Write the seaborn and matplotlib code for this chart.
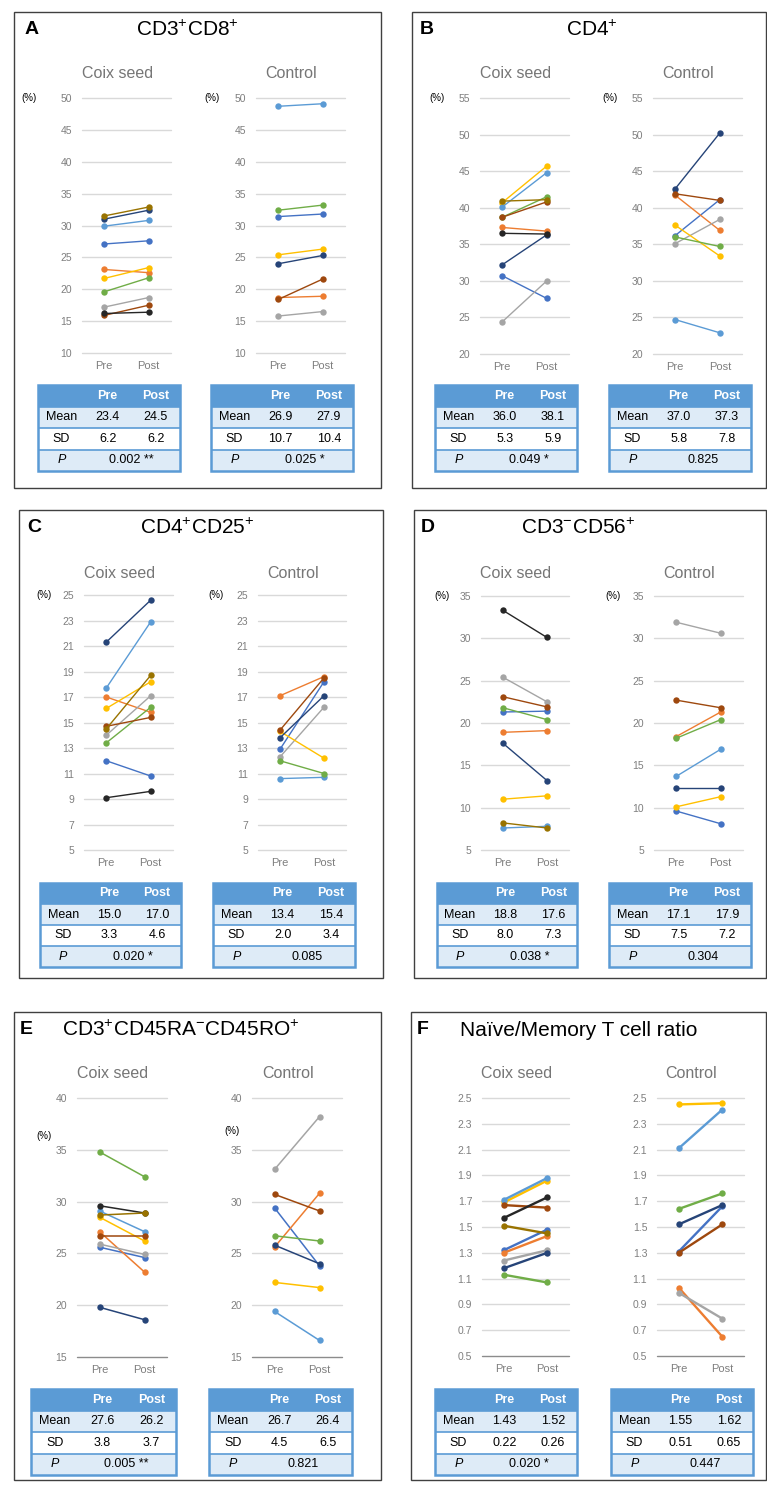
import matplotlib
matplotlib.use("Agg")
import pandas as pd
import matplotlib.pyplot as plt
from matplotlib.patches import Rectangle
import seaborn as sns

W, H = 767, 1486

# subjects, coloured in the Excel series order
subjects = ["S1", "S2", "S3", "S4", "S5", "S6", "S7", "S8", "S9", "S10"]
subject_colors = {
    "S1": "#4472C4", "S2": "#ED7D31", "S3": "#A5A5A5", "S4": "#FFC000",
    "S5": "#5B9BD5", "S6": "#70AD47", "S7": "#264478", "S8": "#9E480E",
    "S9": "#262626", "S10": "#997300",
}
groups = ["Coix seed", "Control"]

# A  CD3+CD8+
a_yticks = [10, 15, 20, 25, 30, 35, 40, 45, 50]
a_coix_pre = [27.1, 23.1, 17.2, 21.7, 29.9, 19.6, 31.0, 15.9, 16.2, 31.5]
a_coix_post = [27.6, 22.6, 18.7, 23.4, 30.8, 21.8, 32.4, 17.5, 16.4, 32.9]
a_ctrl_pre = [31.4, 18.7, 15.8, 25.4, 48.7, 32.4, 24.0, 18.4]
a_ctrl_post = [31.8, 18.9, 16.5, 26.3, 49.1, 33.2, 25.3, 21.6]
a_coix_table = [["23.4", "24.5"], ["6.2", "6.2"], "0.002 **"]
a_ctrl_table = [["26.9", "27.9"], ["10.7", "10.4"], "0.025 *"]

# B  CD4+
b_yticks = [20, 25, 30, 35, 40, 45, 50, 55]
b_coix_pre = [30.7, 37.3, 24.4, 40.7, 40.1, 38.7, 32.2, 38.7, 36.5, 40.9]
b_coix_post = [27.6, 36.8, 30.0, 45.7, 44.8, 41.5, 36.3, 40.8, 36.4, 41.1]
b_ctrl_pre = [36.2, 41.7, 35.1, 37.6, 24.7, 36.0, 42.6, 41.9]
b_ctrl_post = [41.1, 36.9, 38.4, 33.4, 22.9, 34.7, 50.2, 41.0]
b_coix_table = [["36.0", "38.1"], ["5.3", "5.9"], "0.049 *"]
b_ctrl_table = [["37.0", "37.3"], ["5.8", "7.8"], "0.825"]

# C  CD4+CD25+
c_yticks = [5, 7, 9, 11, 13, 15, 17, 19, 21, 23, 25]
c_coix_pre = [12.0, 17.0, 14.0, 16.1, 17.7, 13.4, 21.3, 14.7, 9.1, 14.5]
c_coix_post = [10.8, 15.8, 17.1, 18.2, 22.9, 16.2, 24.6, 15.4, 9.6, 18.7]
c_ctrl_pre = [12.9, 17.1, 12.3, 14.3, 10.6, 12.0, 13.8, 14.4]
c_ctrl_post = [18.2, 18.6, 16.2, 12.2, 10.7, 11.0, 17.1, 18.5]
c_coix_table = [["15.0", "17.0"], ["3.3", "4.6"], "0.020 *"]
c_ctrl_table = [["13.4", "15.4"], ["2.0", "3.4"], "0.085"]

# D  CD3-CD56+
d_yticks = [5, 10, 15, 20, 25, 30, 35]
d_coix_pre = [21.3, 18.9, 25.4, 11.0, 7.6, 21.8, 17.6, 23.1, 33.3, 8.2]
d_coix_post = [21.4, 19.1, 22.5, 11.4, 7.8, 20.4, 13.2, 21.9, 30.1, 7.6]
d_ctrl_pre = [9.6, 18.4, 31.9, 10.1, 13.7, 18.2, 12.3, 22.7]
d_ctrl_post = [8.1, 21.3, 30.6, 11.3, 16.9, 20.4, 12.3, 21.8]
d_coix_table = [["18.8", "17.6"], ["8.0", "7.3"], "0.038 *"]
d_ctrl_table = [["17.1", "17.9"], ["7.5", "7.2"], "0.304"]

# E  CD3+CD45RA-CD45RO+
e_yticks = [15, 20, 25, 30, 35, 40]
e_coix_pre = [25.6, 27.1, 25.9, 28.5, 29.1, 34.8, 19.8, 26.7, 29.6, 28.7]
e_coix_post = [24.6, 23.2, 24.9, 26.2, 27.1, 32.4, 18.6, 26.7, 28.9, 28.9]
e_ctrl_pre = [29.4, 25.6, 33.1, 22.2, 19.4, 26.7, 25.8, 30.7]
e_ctrl_post = [23.8, 30.8, 38.2, 21.7, 16.6, 26.2, 24.0, 29.1]
e_coix_table = [["27.6", "26.2"], ["3.8", "3.7"], "0.005 **"]
e_ctrl_table = [["26.7", "26.4"], ["4.5", "6.5"], "0.821"]

# F  naive / memory ratio
f_yticks = [0.5, 0.7, 0.9, 1.1, 1.3, 1.5, 1.7, 1.9, 2.1, 2.3, 2.5]
f_coix_pre = [1.32, 1.30, 1.24, 1.69, 1.71, 1.13, 1.18, 1.67, 1.57, 1.51]
f_coix_post = [1.48, 1.43, 1.32, 1.86, 1.88, 1.07, 1.30, 1.65, 1.73, 1.45]
f_ctrl_pre = [1.31, 1.03, 0.99, 2.45, 2.11, 1.64, 1.52, 1.30]
f_ctrl_post = [1.66, 0.65, 0.79, 2.46, 2.41, 1.76, 1.67, 1.52]
f_coix_table = [["1.43", "1.52"], ["0.22", "0.26"], "0.020 *"]
f_ctrl_table = [["1.55", "1.62"], ["0.51", "0.65"], "0.447"]

GRID = "#D9D9D9"
TICK = "#7F7F7F"
TBL_BLUE = "#5B9BD5"
TBL_LIGHT = "#DEEBF7"

sns.set_theme(style="white")
plt.rcParams["font.family"] = ["Liberation Sans", "DejaVu Sans"]
plt.rcParams["mathtext.fontset"] = "custom"
plt.rcParams["mathtext.rm"] = "Liberation Sans"
plt.rcParams["mathtext.it"] = "Liberation Sans:italic"

fig = plt.figure(figsize=(W / 100, H / 100), dpi=100)


def px_box(x0, y0, x1, y1):
    return [x0 / W, 1 - y1 / H, (x1 - x0) / W, (y1 - y0) / H]


def ftext(x, y, s, **kw):
    fig.text(x / W, 1 - y / H, s, va="center", **kw)


def draw_group(box, pre, post, yticks, lw, bottom_color, fmt):
    ax = fig.add_axes(px_box(*box))
    n = len(pre)
    df = pd.DataFrame({
        "subject": subjects[:n] * 2,
        "time": pd.Categorical(["Pre"] * n + ["Post"] * n, categories=["Pre", "Post"]),
        "value": pre + post,
    })
    for i, t in enumerate(yticks):
        ax.axhline(t, color=bottom_color if i == 0 else GRID, lw=1, zorder=0, clip_on=False)
    sns.lineplot(data=df, x="time", y="value", hue="subject", hue_order=subjects[:n],
                 palette=subject_colors, marker="o", markersize=4.6, markeredgewidth=0,
                 linewidth=lw, errorbar=None, legend=False, ax=ax, clip_on=False)
    ax.set_xlim(-0.5, 1.5)
    ax.set_ylim(yticks[0], yticks[-1])
    ax.set_yticks(yticks)
    ax.set_yticklabels([fmt.format(t) for t in yticks])
    ax.tick_params(axis="y", length=0, pad=7, labelsize=7.5, labelcolor=TICK)
    ax.tick_params(axis="x", length=0, pad=6, labelsize=8, labelcolor=TICK)
    ax.set_xlabel("")
    ax.set_ylabel("")
    ax.set_facecolor("none")
    sns.despine(ax=ax, left=True, bottom=True)
    return ax


def draw_table(box, table):
    tax = fig.add_axes(px_box(*box))
    tax.set_xlim(0, 1)
    tax.set_ylim(4, 0)
    tax.axis("off")
    for r, fc in enumerate([TBL_BLUE, TBL_LIGHT, "white", TBL_LIGHT]):
        tax.add_patch(Rectangle((0, r), 1, 1, facecolor=fc, edgecolor="none"))
    for r in (1, 2, 3):
        tax.plot([0, 1], [r, r], color=TBL_BLUE, lw=1.2)
    tax.add_patch(Rectangle((0, 0), 1, 4, fill=False, edgecolor=TBL_BLUE, lw=1.8, clip_on=False))
    hk = dict(ha="center", va="center", fontsize=9, color="white", fontweight="bold")
    tax.text(0.49, 0.5, "Pre", **hk)
    tax.text(0.83, 0.5, "Post", **hk)
    bk = dict(ha="center", va="center", fontsize=9, color="black")
    for r, (lab, vals) in enumerate(zip(["Mean", "SD"], table[:2]), start=1):
        tax.text(0.165, r + 0.5, lab, **bk)
        tax.text(0.49, r + 0.5, vals[0], **bk)
        tax.text(0.83, r + 0.5, vals[1], **bk)
    tax.text(0.165, 3.5, "P", style="italic", **bk)
    tax.text(0.66, 3.5, table[2], **bk)


panels = [
    dict(letter="A", title=r"CD3$^{+}$CD8$^{+}$", box=(14, 12, 381, 488), lxy=(32, 30),
         txy=(187, 30), ha="center", sub_y=73, ax_x=[(82, 171), (256, 345)], ay=(98, 353),
         pct=[(29, 98), (212, 98)], tb_x=[(38, 180), (211, 353)], ty=(385, 471),
         yticks=a_yticks, data=[(a_coix_pre, a_coix_post, a_coix_table), (a_ctrl_pre, a_ctrl_post, a_ctrl_table)],
         lw=1.0, bottom=GRID, fmt="{:.0f}"),
    dict(letter="B", title=r"CD4$^{+}$", box=(412, 12, 766, 488), lxy=(427, 30),
         txy=(592, 30), ha="center", sub_y=74, ax_x=[(480, 569), (653, 742)], ay=(98, 354),
         pct=[(437, 98), (610, 98)], tb_x=[(435, 577), (609, 751)], ty=(385, 471),
         yticks=b_yticks, data=[(b_coix_pre, b_coix_post, b_coix_table), (b_ctrl_pre, b_ctrl_post, b_ctrl_table)],
         lw=1.0, bottom=GRID, fmt="{:.0f}"),
    dict(letter="C", title=r"CD4$^{+}$CD25$^{+}$", box=(19, 510, 383, 978), lxy=(34, 528),
         txy=(197, 528), ha="center", sub_y=573, ax_x=[(84, 173), (258, 346)], ay=(595, 850),
         pct=[(44, 595), (216, 595)], tb_x=[(40, 181), (213, 355)], ty=(883, 967),
         yticks=c_yticks, data=[(c_coix_pre, c_coix_post, c_coix_table), (c_ctrl_pre, c_ctrl_post, c_ctrl_table)],
         lw=1.0, bottom=GRID, fmt="{:.0f}"),
    dict(letter="D", title=r"CD3$^{-}$CD56$^{+}$", box=(414, 510, 766, 978), lxy=(428, 528),
         txy=(578, 528), ha="center", sub_y=573, ax_x=[(481, 569), (654, 743)], ay=(596, 850),
         pct=[(442, 596), (613, 596)], tb_x=[(437, 577), (609, 751)], ty=(883, 967),
         yticks=d_yticks, data=[(d_coix_pre, d_coix_post, d_coix_table), (d_ctrl_pre, d_ctrl_post, d_ctrl_table)],
         lw=1.0, bottom=GRID, fmt="{:.0f}"),
    dict(letter="E", title=r"CD3$^{+}$CD45RA$^{-}$CD45RO$^{+}$", box=(14, 1012, 381, 1480), lxy=(26, 1030),
         txy=(62, 1030), ha="left", sub_y=1074, ax_x=[(77, 167), (252, 342)], ay=(1098, 1357),
         pct=[(44, 1136), (232, 1131)], tb_x=[(31, 176), (209, 352)], ty=(1389, 1475),
         yticks=e_yticks, data=[(e_coix_pre, e_coix_post, e_coix_table), (e_ctrl_pre, e_ctrl_post, e_ctrl_table)],
         lw=1.1, bottom="#8C8C8C", fmt="{:.0f}"),
    dict(letter="F", title="Naïve/Memory T cell ratio", box=(411, 1012, 766, 1480), lxy=(423, 1030),
         txy=(460, 1030), ha="left", sub_y=1074, ax_x=[(482, 569), (657, 744)], ay=(1098, 1356),
         pct=None, tb_x=[(435, 577), (611, 753)], ty=(1389, 1475),
         yticks=f_yticks, data=[(f_coix_pre, f_coix_post, f_coix_table), (f_ctrl_pre, f_ctrl_post, f_ctrl_table)],
         lw=1.7, bottom="#8C8C8C", fmt="{:.1f}"),
]

for p in panels:
    x0, y0, x1, y1 = p["box"]
    fig.add_artist(Rectangle((x0 / W, 1 - y1 / H), (x1 - x0) / W, (y1 - y0) / H,
                             transform=fig.transFigure, fill=False, edgecolor="#404040", lw=1))
    ftext(*p["lxy"], p["letter"], ha="center", fontsize=14, fontweight="bold", color="black")
    ftext(*p["txy"], p["title"], ha=p["ha"], fontsize=15, color="black")
    for g, (gname, (xa, xb), (pre, post, table)) in enumerate(zip(groups, p["ax_x"], p["data"])):
        draw_group((xa, p["ay"][0], xb, p["ay"][1]), pre, post, p["yticks"], p["lw"], p["bottom"], p["fmt"])
        ftext((xa + xb) / 2 - 9, p["sub_y"], gname, ha="center", fontsize=11.5, color="#767676")
        if p["pct"]:
            ftext(*p["pct"][g], "(%)", ha="center", fontsize=7, color="black")
        tx0, tx1 = p["tb_x"][g]
        draw_table((tx0, p["ty"][0], tx1, p["ty"][1]), table)

fig.savefig("out.png", dpi=100)
